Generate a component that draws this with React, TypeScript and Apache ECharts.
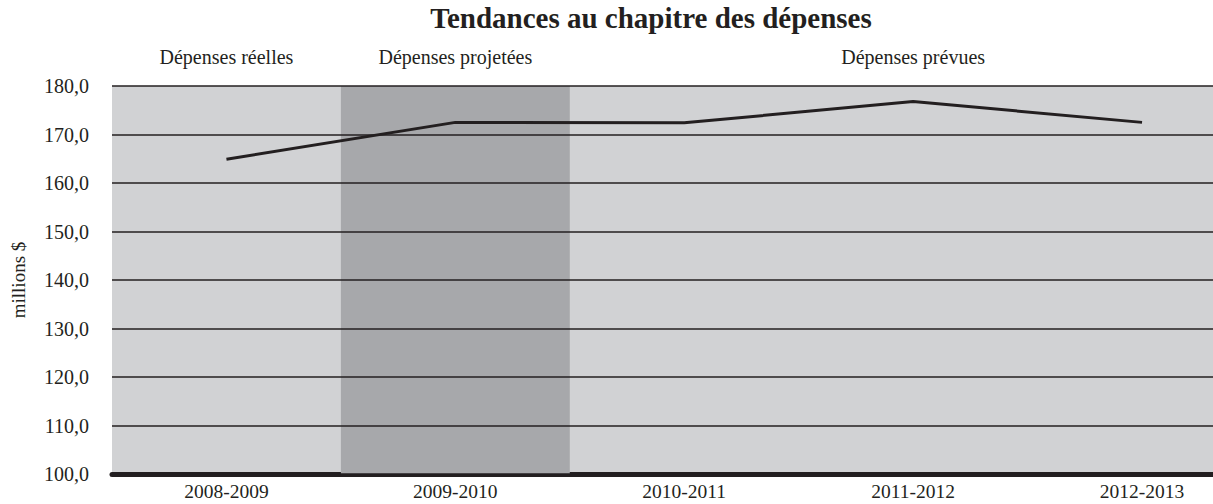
import React, { useEffect, useRef } from "react";
import * as echarts from "echarts";

const categories = ["2008-2009", "2009-2010", "2010-2011", "2011-2012", "2012-2013"];
const spending = [164.9, 172.5, 172.4, 176.8, 172.5];
const phaseLabels = ["Dépenses réelles", "Dépenses projetées", "Dépenses prévues"];
const phaseAnchor = [0, 1, 3];
const projectedIndex = 1;
const yMin = 100;
const yMax = 180;
const yStep = 10;
const titleText = "Tendances au chapitre des dépenses";
const yName = "millions $";

const FONT = "Liberation Serif";
const INK = "#231f20";

export default function App() {
  const ref = useRef<HTMLDivElement>(null);
  useEffect(() => {
    if (!ref.current) return;
    const chart = echarts.init(ref.current, undefined, { renderer: "svg" });
    const lineData = spending.map((v, i) => [i + 0.5, v]);
    chart.setOption({
      animation: false,
      graphic: [
        {
          type: "text",
          x: 651,
          y: 3,
          style: {
            text: titleText,
            align: "center",
            font: `bold 29px "${FONT}"`,
            fill: INK,
          },
        },
      ],
      grid: {
        left: 112,
        right: 0,
        top: 86,
        bottom: 30,
        outerBoundsMode: "none",
        containLabel: false,
        show: true,
        backgroundColor: "#d1d2d4",
        borderWidth: 0,
      },
      xAxis: {
        type: "value",
        min: 0,
        max: 4.81,
        interval: 0.5,
        splitLine: { show: false },
        axisTick: { show: false },
        axisLine: { show: true, onZero: false, lineStyle: { color: INK, width: 5 } },
        axisLabel: {
          showMaxLabel: false,
          showMinLabel: false,
          margin: 10,
          lineHeight: 14,
          color: INK,
          fontFamily: FONT,
          fontSize: 19.5,
          formatter: (v: number) => {
            const i = v - 0.5;
            return Number.isInteger(i) && categories[i] ? categories[i] : "";
          },
        },
      },
      yAxis: {
        type: "value",
        min: yMin,
        max: yMax,
        interval: yStep,
        z: 2,
        name: yName,
        nameLocation: "middle",
        nameGap: 84,
        nameRotate: 90,
        nameTextStyle: { color: INK, fontFamily: FONT, fontSize: 19 },
        axisLine: { show: false },
        axisTick: { show: false },
        splitLine: { show: true, lineStyle: { color: INK, width: 1.5 } },
        axisLabel: {
          margin: 23,
          color: INK,
          fontFamily: FONT,
          fontSize: 20,
          formatter: (v: number) => v.toFixed(1).replace(".", ","),
        },
      },
      series: [
        {
          type: "line",
          z: 3,
          data: lineData,
          symbol: "none",
          clip: false,
          lineStyle: { color: INK, width: 3 },
          markArea: {
            silent: true,
            itemStyle: { color: "#a7a8ab" },
            data: [[{ xAxis: projectedIndex }, { xAxis: projectedIndex + 1 }]],
          },
          markPoint: {
            silent: true,
            symbol: "circle",
            symbolSize: 1,
            itemStyle: { color: "transparent" },
            label: {
              show: true,
              position: "inside",
              offset: [0, -29],
              color: INK,
              fontFamily: FONT,
              fontSize: 20,
              formatter: (p: any) => p.name,
            },
            data: phaseLabels.map((name, k) => ({
              name,
              coord: [phaseAnchor[k] + 0.5, yMax],
            })),
          },
        },
      ],
    });
    return () => chart.dispose();
  }, []);
  return (
    <div
      ref={ref}
      style={{ position: "absolute", left: 0, top: 0, width: 1213, height: 504 }}
    />
  );
}
